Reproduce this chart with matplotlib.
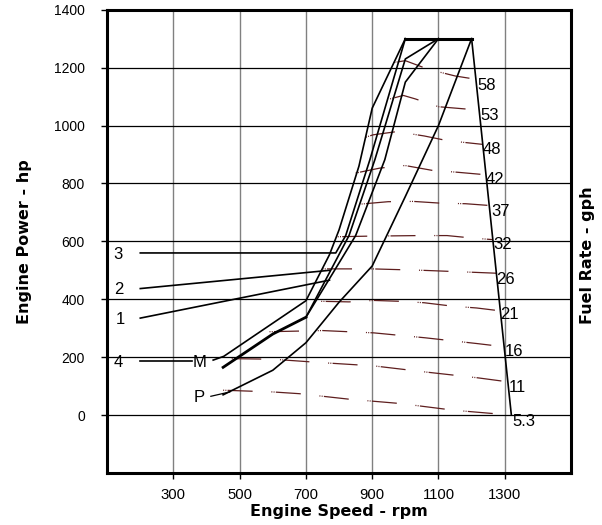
import numpy as np
import matplotlib.pyplot as plt

plt.rcParams['font.family'] = ['Liberation Sans', 'DejaVu Sans']

# lug curves (rpm, hp)
c3_rpm = [200, 790, 820, 893, 1000]
c3_hp = [560, 560, 620, 882, 1300]
c2_rpm = [700, 771, 830, 908, 1000, 1100]
c2_hp = [338, 492, 620, 882, 1230, 1300]
c1_rpm = [700, 771, 850, 938, 1000, 1100]
c1_hp = [338, 471, 620, 882, 1150, 1300]
l2_rpm = [200, 771]
l2_hp = [437, 500]
l1_rpm = [200, 771]
l1_hp = [335, 466]
cm_rpm = [420, 452, 700, 771, 800, 860, 900, 1000]
cm_hp = [190, 203, 395, 554, 640, 860, 1060, 1300]
ct_rpm = [450, 600, 700]
ct_hp = [165, 280, 338]
cp_rpm = [450, 600, 700, 800, 900, 1000, 1100, 1200]
cp_hp = [70, 155, 250, 390, 515, 755, 1000, 1300]
c4_rpm = [200, 355]
c4_hp = [186, 186]
p_lead_rpm = [413, 470]
p_lead_hp = [65, 80]

# full load line and governor droop
top_rpm = [1000, 1200]
top_hp = [1300, 1300]
droop_rpm = [1200, 1320]
droop_hp = [1300, 0]

# constant fuel rate lines (gph)
fuel_labels = ['5.3', '11', '16', '21', '26', '32', '37', '42', '48', '53', '58']
fuel_rpm = [
    [450, 600, 680, 830, 985, 1145, 1300, 1320],
    [476, 600, 750, 905, 1060, 1217, 1309],
    [590, 750, 905, 1060, 1217, 1298],
    [746, 830, 905, 985, 1057, 1144, 1215, 1287],
    [750, 900, 1053, 1210, 1275],
    [796, 888, 1040, 1126, 1197, 1264],
    [868, 948, 1024, 1106, 1182, 1253],
    [850, 923, 999, 1082, 1154, 1243],
    [881, 903, 974, 1057, 1126, 1233],
    [954, 994, 1030, 1100, 1184, 1222],
    [967, 1000, 1070, 1151, 1212],
]
fuel_hp = [
    [86, 80, 74, 55, 40, 17, 2, 0],
    [195, 193, 181, 170, 149, 129, 115],
    [288, 292, 284, 267, 247, 236],
    [393, 391, 396, 393, 388, 376, 370, 360],
    [505, 505, 500, 493, 490],
    [616, 618, 620, 620, 612, 606],
    [729, 737, 738, 732, 730, 724],
    [836, 853, 862, 845, 839, 830],
    [960, 968, 979, 964, 948, 935],
    [1092, 1104, 1092, 1065, 1057, 1050],
    [1218, 1224, 1194, 1171, 1160],
]
fuel_lab_rpm = [1323, 1313, 1300, 1285, 1273, 1266, 1258, 1242, 1232, 1226, 1217]
fuel_lab_hp = [-22, 94, 220, 347, 468, 589, 703, 813, 916, 1034, 1140]

curve_labels = ['3', '2', '1', '4', 'M', 'P']
curve_lab_rpm = [120, 120, 125, 120, 358, 360]
curve_lab_hp = [554, 433, 330, 180, 180, 61]

fig = plt.figure(figsize=(6.02, 5.25), dpi=100)
ax = fig.add_axes([0.178, 0.099, 0.7705, 0.8825])

ax.set_xlim(100, 1500)
ax.set_ylim(-200, 1400)
ax.set_xticks([300, 500, 700, 900, 1100, 1300])
ax.set_yticks(np.arange(0, 1401, 200))

for x in [300, 500, 700, 900, 1100, 1300]:
    ax.axvline(x, color='#808080', lw=1.0, zorder=1)
for y in range(0, 1400, 200):
    ax.axhline(y, color='black', lw=0.9, zorder=1)

dash = (0, (0.8, 1.0, 0.8, 1.0, 20, 15))
for r, h in zip(fuel_rpm, fuel_hp):
    ax.plot(r, h, color='#5e1e1e', lw=0.9, ls=dash, zorder=2)

kw = dict(color='black', lw=1.2, zorder=3)
ax.plot(c3_rpm, c3_hp, **kw)
ax.plot(c2_rpm, c2_hp, **kw)
ax.plot(c1_rpm, c1_hp, **kw)
ax.plot(l2_rpm, l2_hp, **kw)
ax.plot(l1_rpm, l1_hp, **kw)
ax.plot(cm_rpm, cm_hp, **kw)
ax.plot(ct_rpm, ct_hp, color='black', lw=2.0, zorder=3)
ax.plot(cp_rpm, cp_hp, **kw)
ax.plot(c4_rpm, c4_hp, **kw)
ax.plot(p_lead_rpm, p_lead_hp, color='black', lw=0.9, zorder=3)
ax.plot(top_rpm, top_hp, color='black', lw=2.2, zorder=3)
ax.plot(droop_rpm, droop_hp, **kw)

for t, x, y in zip(fuel_labels, fuel_lab_rpm, fuel_lab_hp):
    ax.text(x, y, t, fontsize=12, ha='left', va='center', zorder=4)
for t, x, y in zip(curve_labels, curve_lab_rpm, curve_lab_hp):
    ax.text(x, y, t, fontsize=12, ha='left', va='center', zorder=4)

for s in ax.spines.values():
    s.set_linewidth(2.2)
ax.tick_params(axis='y', length=4, width=1, pad=12)
ax.tick_params(axis='x', length=4, width=1, pad=7, labelsize=10.7)
for lab in ax.get_yticklabels():
    lab.set_fontfamily(['Liberation Sans Narrow', 'Liberation Sans'])
    lab.set_fontsize(10)

bold = dict(fontsize=11.5, fontweight='bold', family=['DejaVu Sans'])
ax.set_xlabel('Engine Speed - rpm', labelpad=1, **bold)
ax.set_ylabel('Engine Power - hp', labelpad=16, **bold)
ax.text(1.035, 0.47, 'Fuel Rate - gph', transform=ax.transAxes, rotation=90,
        ha='center', va='center', **bold)

fig.savefig('out.png', dpi=100)
